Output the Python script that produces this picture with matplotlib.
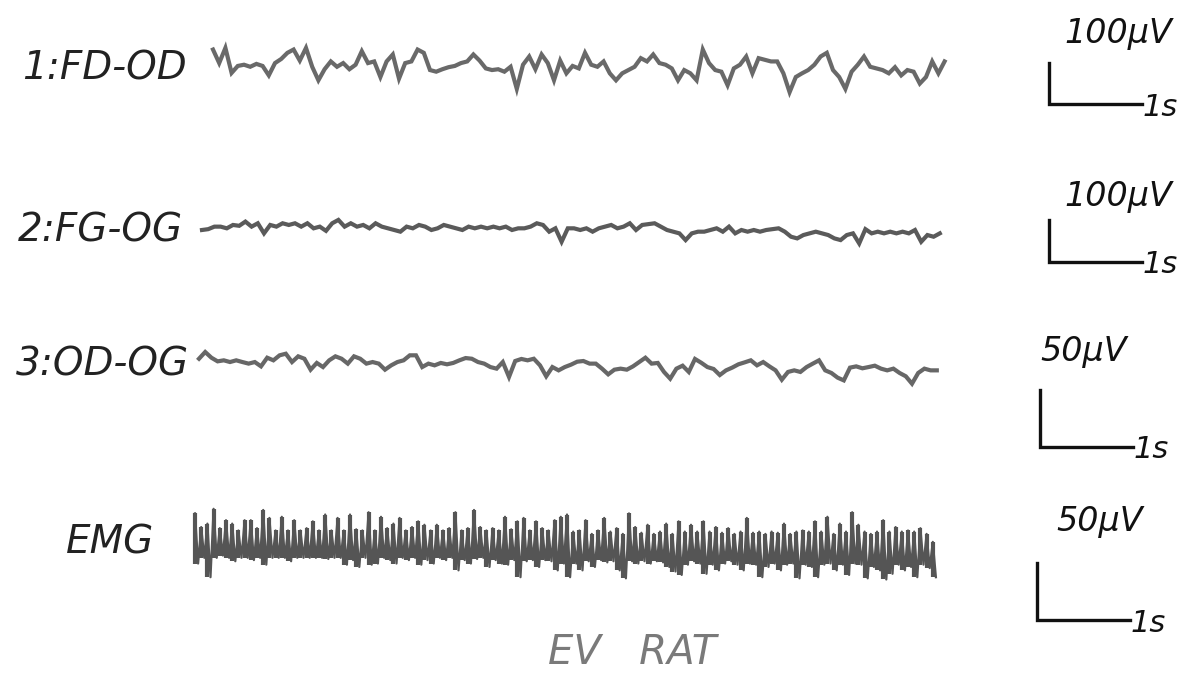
import numpy as np
import matplotlib
matplotlib.use("Agg")
import matplotlib.pyplot as plt

fd_od = [45, 12, 49, -12, 5, 8, 3, 10, 5, -18, 12, 22, 37, 45, 18, 49, 3, -30, -3, 16,
         3, 12, -3, 8, 41, 12, 16, -22, 16, 33, -26, 12, 16, 45, 37, -5, -9, -3, 2, 5,
         12, 16, 33, 18, -1, -5, -3, -9, 3, -51, 8, 28, -3, 33, 12, -30, 18, -13, 5,
         -1, 37, 8, 3, 16, -13, -30, -13, -5, 3, 24, 16, 33, 12, 8, -1, -30, -5, -13, -30,
         45, 12, -5, -9, -42, -1, 8, 28, -13, 24, 20, 16, 16, -13, -59, -22, -13, -5, 8, 28,
         37, -5, -22, -51, -9, 8, 28, 3, -1, -5, -13, 2, -18, -5, -9, -38, -22, 16, -13, 16]

fg_og = [0, 2, 8, 8, 4, 12, 10, 20, 8, 16, -8, 12, 8, 16, 12, 16, 8, 16, 4, 8,
         -2, 16, 24, 8, 16, 8, 12, 4, 16, 8, 4, 0, -4, 8, 4, 12, 8, 0, 4, 12,
         8, 4, 0, 8, 4, 8, 4, 8, 4, 8, 0, 4, 4, 8, 16, 12, -4, 4, -28, 4,
         4, 0, 4, -4, 4, 8, 12, 4, 8, 16, 0, 12, 14, 16, 8, 0, -4, -8, -24, -8,
         -4, -4, 0, 4, -4, 8, -8, 0, -4, 0, -4, 0, 2, 4, -4, -16, -20, -12, -8, -4,
         -8, -12, -20, -24, -12, -8, -32, 2, -8, -4, -8, -4, -8, -4, -8, 0, -28, -12, -16, -8]

od_og = [5.5, 11.4, 6.4, 3.2, 4.1, 2.6, 4.1, 2.6, 1.2, 2.6, -1.2, 6.4, 4.1, 8.5, 9.9, 2.6, 7.6, 5.5, -4.1, 1.8,
         -1.8, 4.1, 7.6, 5.5, 1.2, 7.6, 5.5, 1.2, 2.6, 1.2, -4.1, -0.3, 2.6, 4.1, 8.5, 8.5, -1.8, 1.2, -0.3, 1.8,
         0.6, 1.8, 4.1, 6.1, 5.5, 2.6, 1.2, -1.8, -3.2, 2.6, -10.5, 3.5, 5.3, 4.1, 5.5, -0.3, -9.9, -1.8, -4.7, -1.8,
         0.3, 2.9, 3.5, 1.2, 1.2, -3.2, -8.2, -4.1, -3.2, -4.1, -1.2, 2.6, 6.4, 1.2, 1.8, -6.1, -12.0, -3.2, -0.6, -6.1,
         5.3, 2.0, -1.8, -3.5, -8.8, -4.7, -2.3, 0.6, 2.3, 4.1, -0.3, 2.6, -1.2, -4.7, -12.9, -6.1, -4.7, -6.1, -1.8, 1.2,
         4.1, -4.7, -7.0, -11.1, -13.5, -2.3, -1.2, -2.9, -1.8, -0.6, -3.2, -4.7, -3.2, -7.0, -9.9, -16.4, -7.0, -3.2, -4.7, -4.7]

# EMG: upper and lower excursions (microvolts) every 1/15 s
emg_top = [26, 14, 17, 30, 13, 20, 17, 11, 20, 20, 13, 29, 22, 11, 23, 11, 20, 11, 13, 19,
           11, 25, 11, 22, 11, 25, 12, 11, 27, 11, 23, 13, 17, 22, 11, 14, 19, 16, 11, 16,
           11, 13, 27, 11, 13, 29, 14, 11, 13, 11, 23, 12, 19, 22, 11, 19, 13, 11, 20, 23,
           25, 10, 11, 20, 8, 11, 22, 10, 13, 8, 26, 14, 9, 16, 8, 10, 17, 8, 19, 10,
           16, 10, 19, 10, 14, 9, 13, 8, 10, 22, 9, 10, 8, 10, 9, 17, 8, 10, 11, 10,
           19, 10, 23, 8, 17, 10, 27, 16, 10, 8, 10, 20, 10, 14, 10, 11, 10, 13, 8, 1]
emg_bottom = [-18, -13, -30, -13, -11, -13, -16, -13, -13, -15, -13, -19, -13, -13, -13, -16, -13, -13, -13, -13,
              -13, -14, -13, -13, -19, -15, -21, -13, -19, -18, -13, -15, -18, -13, -15, -13, -19, -15, -18, -13,
              -15, -13, -24, -15, -18, -14, -13, -21, -15, -18, -19, -15, -30, -16, -15, -21, -15, -16, -24, -18,
              -30, -18, -24, -16, -21, -15, -17, -16, -24, -31, -16, -18, -16, -18, -16, -17, -21, -25, -28, -19,
              -16, -18, -27, -19, -24, -18, -16, -19, -24, -18, -19, -30, -21, -18, -24, -19, -18, -31, -19, -21,
              -30, -19, -18, -24, -19, -28, -18, -19, -31, -21, -24, -32, -27, -19, -24, -21, -30, -19, -22, -30]

channel_names = ["1:FD-OD", "2:FG-OG", "3:OD-OG", "EMG"]
dt = 1 / 15

W, H = 1186, 678
fig = plt.figure(figsize=(W / 100, H / 100), dpi=100)
fig.patch.set_facecolor("white")

font = dict(family="DejaVu Sans", style="italic")
pps = 93.0  # pixels per second

# (start px, baseline px from top, uV per px, bar x, bar bottom y, bar uV, label x, label y, name x)
layout = [
    (213, 68, 100 / 41, 1049, 104, 100, 1118, 33, 22),
    (202, 230, 100 / 42, 1049, 262, 100, 1118, 196, 18),
    (199, 365, 50 / 57, 1040, 447, 50, 1084, 352, 16),
    (195, 543, 50 / 57, 1037, 620, 50, 1100, 522, 66),
]


def channel_axes(start, base, upp):
    ax = fig.add_axes([0, 0, 1, 1])
    ax.set_xlim(-start / pps, (W - start) / pps)
    yb = H - base
    ax.set_ylim(-yb * upp, (H - yb) * upp)
    ax.axis("off")
    ax.patch.set_alpha(0)
    return ax


eeg = [fd_od, fg_og, od_og]
trace_colors = ["#696969", "#5a5a5a", "#676767"]

for i, (start, base, upp, bx, by, buv, lx, ly, nx) in enumerate(layout):
    ax = channel_axes(start, base, upp)
    if i < 3:
        v = np.array(eeg[i])
        t = np.arange(len(v)) * dt
        ax.plot(t, v, color=trace_colors[i], lw=3.0, solid_joinstyle="miter")
    else:
        top = np.array(emg_top)
        bot = np.array(emg_bottom)
        t = np.arange(len(top)) * dt
        ax.vlines(t, bot, top, color="#555555", lw=3.0)
        v = np.empty(2 * len(top))
        v[0::2] = top
        v[1::2] = bot
        tz = np.arange(len(v)) * dt / 2
        ax.plot(tz, v, color="#555555", lw=1.6)

    # calibration bar: buv vertical, 1 s horizontal
    x0 = (bx - start) / pps
    y0 = (base - by) * upp
    ax.plot([x0, x0, x0 + 1.0], [y0 + buv, y0, y0], color="#111111", lw=2.4,
            solid_joinstyle="miter", clip_on=False)
    ax.text(x0 + 1.0 + 1 / pps, y0 - 3 * upp, "1s", fontsize=22, color="#111111",
            ha="left", va="center", **font)
    fig.text(lx / W, 1 - ly / H, f"{buv}\u00b5V", fontsize=24, color="#111111",
             ha="center", va="center", **font)

    # channel name
    fig.text(nx / W, 1 - base / H, channel_names[i], fontsize=28, color="#222222",
             ha="left", va="center", **font)

fig.text(632 / W, 1 - 652 / H, "EV   RAT", fontsize=29, color="#7a7a7a",
         ha="center", va="center", **font)

fig.savefig("out.png", dpi=100, facecolor="white")
